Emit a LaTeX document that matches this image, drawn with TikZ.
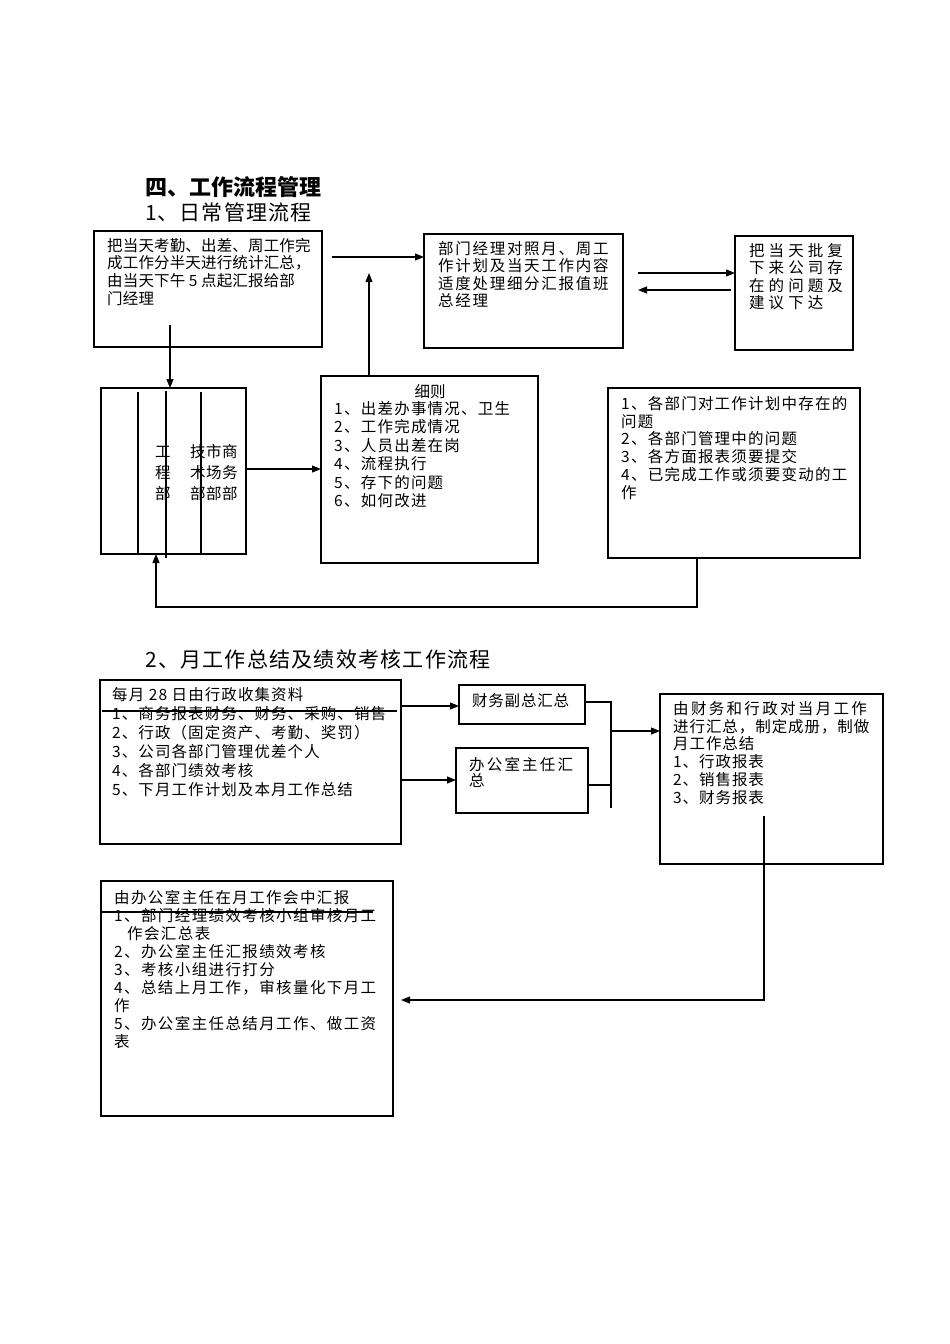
\documentclass[tikz,border=0pt]{standalone}
\usepackage{fontspec}
\setmainfont{Noto Sans CJK SC}
\newfontfamily\cjk{Noto Sans CJK SC}
\usetikzlibrary{arrows.meta}
\newcommand\fl{\rule{0pt}{14pt}}
\newcommand\ls[1]{\addfontfeature{LetterSpace=#1}}
\newcommand\mkbox[5]{\node[box, anchor=north west, minimum width=#4-#2, minimum height=#5-#3] (#1) at (#2,#3) {};}
\begin{document}
\begin{tikzpicture}[x=1pt,y=-1pt,
  box/.style={draw=black, line width=1.2pt, inner sep=0pt, outer sep=0pt},
  txt/.style={anchor=north west, inner sep=0pt, align=left, font=\fontsize{15.5}{18.3}\selectfont},
  ttl/.style={anchor=base west, inner sep=0pt, font=\fontsize{21}{24}\selectfont},
  arr/.style={-{Triangle[length=9pt,width=7pt]}, line width=1.1pt},
  ln/.style={line width=1.1pt}]
\path[use as bounding box, fill=white] (0,0) rectangle (950,1344);

% titles
\node[ttl, font=\fontsize{22}{24}\selectfont\bfseries] (t0) at (145,195) {四、工作流程管理};
\node[ttl, font=\fontsize{21}{24}\selectfont\ls{5}] (t1) at (145,220) {1、日常管理流程};
\node[ttl, font=\fontsize{21}{24}\selectfont\ls{6}] (t2) at (145,667) {2、月工作总结及绩效考核工作流程};

% boxes
\mkbox{A}{94}{231}{322}{347}
\mkbox{B}{424}{234}{623}{348}
\mkbox{C}{735}{236}{853}{350}
\mkbox{D}{101}{388}{246}{554}
\mkbox{E}{321}{376}{538}{563}
\mkbox{F}{608}{388}{860}{558}
\mkbox{G}{100}{680}{401}{844}
\mkbox{H}{459}{685}{585}{724}
\mkbox{I}{456}{748}{588}{813}
\mkbox{J}{660}{694}{883}{864}
\mkbox{K}{101}{881}{393}{1116}

% texts
\node[txt, font=\fontsize{15.5}{17.7}\selectfont\ls{1}] (tA) at (107,237)
 {\fl 把当天考勤、出差、周工作完\\成工作分半天进行统计汇总，\\由当天下午 5 点起汇报给部\\门经理};
\node[txt, font=\fontsize{15.5}{17.5}\selectfont\ls{11}] (tB) at (438,240)
 {\fl 部门经理对照月、周工\\作计划及当天工作内容\\适度处理细分汇报值班\\总经理};
\node[txt, font=\fontsize{15.5}{17.5}\selectfont\ls{26}] (tC) at (749,242)
 {\fl 把当天批复\\下来公司存\\在的问题及\\建议下达};
\node[txt, font=\fontsize{15.5}{21}\selectfont] (tD1) at (155,443) {\fl 工\\程\\部};
\node[txt, font=\fontsize{15.5}{21}\selectfont\ls{3}] (tD2) at (190,443) {\fl 技市商\\术场务\\部部部};
\node[anchor=base, inner sep=0pt, font=\fontsize{15.5}{18}\selectfont] (tE0) at (430,397) {细则};
\node[txt, font=\fontsize{15.5}{18.5}\selectfont\ls{8}] (tE) at (334,400)
 {\fl 1、出差办事情况、卫生\\2、工作完成情况\\3、人员出差在岗\\4、流程执行\\5、存下的问题\\6、如何改进};
\node[txt, font=\fontsize{15.5}{17.8}\selectfont\ls{8}] (tF) at (621,395)
 {\fl 1、各部门对工作计划中存在的\\问题\\2、各部门管理中的问题\\3、各方面报表须要提交\\4、已完成工作或须要变动的工\\作};
\node[txt, font=\fontsize{15.5}{19}\selectfont\ls{7}] (tG) at (112,686)
 {\fl 每月 28 日由行政收集资料\\1、商务报表财务、财务、采购、销售\\2、行政（固定资产、考勤、奖罚）\\3、公司各部门管理优差个人\\4、各部门绩效考核\\5、下月工作计划及本月工作总结};
\node[txt, font=\fontsize{15.5}{18}\selectfont\ls{5}] (tH) at (472,692) {\fl 财务副总汇总};
\node[txt, font=\fontsize{15.5}{16.5}\selectfont\ls{14}] (tI) at (469,756) {\fl 办公室主任汇\\总};
\node[txt, font=\fontsize{15.5}{17.8}\selectfont\ls{6}] (tJ) at (673,700)
 {\fl {\ls{15}由财务和行政对当月工作}\\进行汇总，制定成册，制做\\月工作总结\\1、行政报表\\2、销售报表\\3、财务报表};
\node[txt, font=\fontsize{15.5}{18}\selectfont\ls{9}] (tK) at (114,889)
 {\fl 由办公室主任在月工作会中汇报\\1、部门经理绩效考核小组审核月工\\\hspace*{13pt}作会汇总表\\2、办公室主任汇报绩效考核\\3、考核小组进行打分\\4、总结上月工作，审核量化下月工\\作\\5、办公室主任总结月工作、做工资\\表};

% inner lines of D
\draw[ln] (138,392) -- (138,554);
\draw[ln] (166,391) -- (166,558);
\draw[ln] (201,392) -- (201,554);

% connectors section 1
\coordinate (pAB) at (332,257);
\draw[arr] (pAB) -- (pAB -| B.west);
\coordinate (pBC) at (638,273);
\draw[arr] (pBC) -- (pBC -| C.west);
\coordinate (pCB) at (731,290);
\coordinate (pCBe) at (638,290);
\draw[arr] (pCB) -- (pCBe);
\coordinate (pAD) at (170,325);
\draw[arr] (pAD) -- (pAD |- D.north);
\coordinate (pDE) at (246,469);
\draw[arr] (pDE) -- (pDE -| E.west);
\coordinate (pEB) at (369,273);
\draw[arr] (E.north -| pEB) -- (pEB);
\coordinate (pF) at (697,607);
\coordinate (pFD) at (156,607);
\draw[arr] (F.south -| pF) -- (pF) -- (pFD) -- (pFD |- D.south);

% connectors section 2
\draw[ln] (102,711) -- (397,711);
\coordinate (pGH) at (401,706);
\draw[arr] (pGH) -- (pGH -| H.west);
\coordinate (pGI) at (401,780);
\draw[arr] (pGI) -- (pGI -| I.west);
\coordinate (bH) at (611,702);
\coordinate (bB) at (611,808);
\coordinate (bI) at (611,785);
\draw[ln] (H.east |- bH) -- (bH) -- (bB);
\draw[ln] (I.east |- bI) -- (bI);
\coordinate (bJ) at (611,731);
\draw[arr] (bJ) -- (bJ -| J.west);
\coordinate (pJ) at (764,816);
\coordinate (pJK) at (764,1000);
\coordinate (pK) at (401,1000);
\draw[arr] (pJ) -- (pJK) -- (pK);
\draw[ln] (102,912) -- (373,912);
\end{tikzpicture}
\end{document}
